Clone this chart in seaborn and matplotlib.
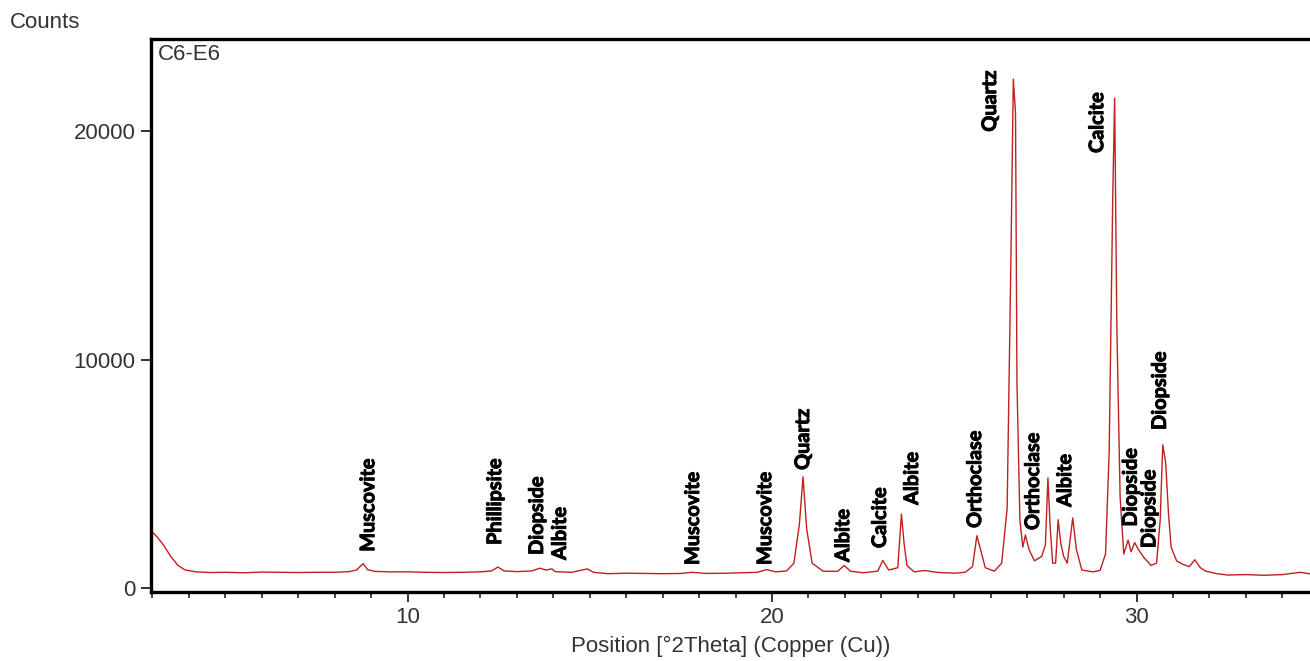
import matplotlib
matplotlib.use("Agg")
import matplotlib.pyplot as plt
import matplotlib.patheffects as pe
from matplotlib.ticker import MultipleLocator
import pandas as pd
import seaborn as sns

# Diffractogram profile: position (°2θ) and intensity (counts)
two_theta = [
    3.00, 3.10, 3.30, 3.50, 3.70, 3.90, 4.20, 4.60, 5.00, 5.50, 6.00, 6.50, 7.00, 7.50,
    8.00, 8.40, 8.60, 8.78, 8.90, 9.10, 9.50, 10.00, 10.50, 11.00, 11.50, 12.00, 12.30,
    12.48, 12.65, 13.00, 13.40, 13.63, 13.80, 13.96, 14.05, 14.50, 14.93, 15.10, 15.50,
    16.00, 16.50, 17.00, 17.50, 17.80, 18.20, 18.70, 19.20, 19.60, 19.85, 20.10, 20.40,
    20.60, 20.75, 20.85, 20.95, 21.10, 21.40, 21.80, 21.98, 22.15, 22.50, 22.90, 23.04,
    23.20, 23.45, 23.55, 23.62, 23.70, 23.90, 24.20, 24.50, 25.00, 25.30, 25.50, 25.62,
    25.72, 25.85, 26.10, 26.30, 26.45, 26.55, 26.62, 26.68, 26.72, 26.80, 26.88, 26.95,
    27.05, 27.20, 27.40, 27.50, 27.57, 27.63, 27.70, 27.78, 27.85, 27.92, 28.00, 28.10,
    28.25, 28.35, 28.50, 28.80, 29.00, 29.15, 29.25, 29.35, 29.40, 29.46, 29.55, 29.65,
    29.77, 29.85, 29.95, 30.05, 30.20, 30.40, 30.55, 30.65, 30.72, 30.80, 30.88, 30.95,
    31.10, 31.27, 31.45, 31.60, 31.75, 31.90, 32.20, 32.50, 33.00, 33.50, 34.00, 34.50,
    34.80,
]
counts = [
    2450, 2300, 1900, 1400, 1000, 800, 720, 690, 700, 680, 710, 700, 690, 700,
    700, 730, 800, 1080, 820, 740, 720, 720, 700, 690, 700, 720, 760,
    930, 760, 730, 760, 880, 800, 850, 730, 700, 850, 700, 640,
    660, 650, 640, 650, 700, 650, 660, 680, 700, 820, 720, 760,
    1100, 2800, 4880, 2600, 1100, 750, 740, 1000, 750, 680, 750, 1220,
    800, 900, 3250, 2000, 1000, 720, 780, 700, 660, 700, 950, 2300,
    1700, 900, 750, 1100, 3500, 14000, 22280, 20800, 9000, 3000, 1800, 2330,
    1700, 1200, 1400, 1900, 4830, 2700, 1100, 1100, 3000, 2000, 1400, 1100,
    3080, 1700, 800, 720, 780, 1500, 6000, 17300, 21450, 11500, 4000, 1500,
    2110, 1600, 2000, 1700, 1350, 1000, 1100, 3000, 6280, 5500, 3200, 1800,
    1200, 1050, 950, 1250, 900, 750, 640, 580, 600, 570, 600, 700,
    620,
]

# Phase identifications: name, label position (°2θ), label base (counts)
phase_names = [
    "Muscovite", "Phillipsite", "Diopside", "Albite", "Muscovite", "Muscovite",
    "Quartz", "Albite", "Calcite", "Albite", "Orthoclase", "Quartz", "Orthoclase",
    "Albite", "Calcite", "Diopside", "Diopside", "Diopside",
]
phase_pos = [
    8.92, 12.40, 13.55, 14.18, 17.83, 19.81,
    20.85, 21.95, 22.96, 23.84, 25.57, 25.98, 27.16,
    28.04, 28.92, 29.84, 30.35, 30.64,
]
phase_base = [
    1600, 1900, 1460, 1240, 1020, 1020,
    5180, 1150, 1760, 3650, 2640, 19980, 2550,
    3560, 19050, 2700, 1760, 6930,
]

x_ticks = [10, 20, 30]
y_ticks = [0, 10000, 20000]

profile = pd.DataFrame({"two_theta": two_theta, "counts": counts})

sns.set_theme(style="white")
plt.rcParams["font.family"] = ["Liberation Sans", "DejaVu Sans"]

fig = plt.figure(figsize=(13.10, 6.61), dpi=100)
ax = fig.add_axes([151 / 1310, 1 - 591.5 / 661, (1310 - 151) / 1310, (591.5 - 39.3) / 661])

sns.lineplot(data=profile, x="two_theta", y="counts", ax=ax, sort=False,
             color="#c0201e", linewidth=1.0, estimator=None)

ax.set_xlim(2.96, 34.76)
ax.set_ylim(-140, 24026)

ax.set_xticks(x_ticks)
ax.set_yticks(y_ticks)
ax.xaxis.set_minor_locator(MultipleLocator(1))
ax.tick_params(axis="both", which="major", direction="out", length=7, width=1.3,
               color="#222222", labelsize=16, labelcolor="#333333", pad=4)
ax.tick_params(axis="x", which="minor", direction="out", length=4, width=1.2,
               color="#222222", bottom=True)
ax.tick_params(axis="x", which="major", bottom=True)
ax.tick_params(axis="y", which="major", left=True)

for side in ("left", "bottom", "top"):
    ax.spines[side].set_visible(True)
    ax.spines[side].set_color("black")
    ax.spines[side].set_linewidth(2.4)
ax.spines["right"].set_visible(False)

ax.set_xlabel("Position [°2Theta] (Copper (Cu))", fontsize=16, color="#333333", labelpad=6)
ax.set_ylabel("")
fig.text(10 / 1310, 1 - 23 / 661, "Counts", fontsize=16, color="#333333",
         ha="left", va="center")
fig.text(158 / 1310, 1 - 54 / 661, "C6-E6", fontsize=16, color="#333333",
         ha="left", va="center")

heavy = [pe.withStroke(linewidth=0.7, foreground="black")]
for name, pos, base in zip(phase_names, phase_pos, phase_base):
    ax.text(pos, base, name, rotation=90, ha="center", va="bottom",
            fontsize=14.3, fontweight="bold", family=["Lato", "DejaVu Sans"],
            color="black", path_effects=heavy)

fig.savefig("out.png", dpi=100)
